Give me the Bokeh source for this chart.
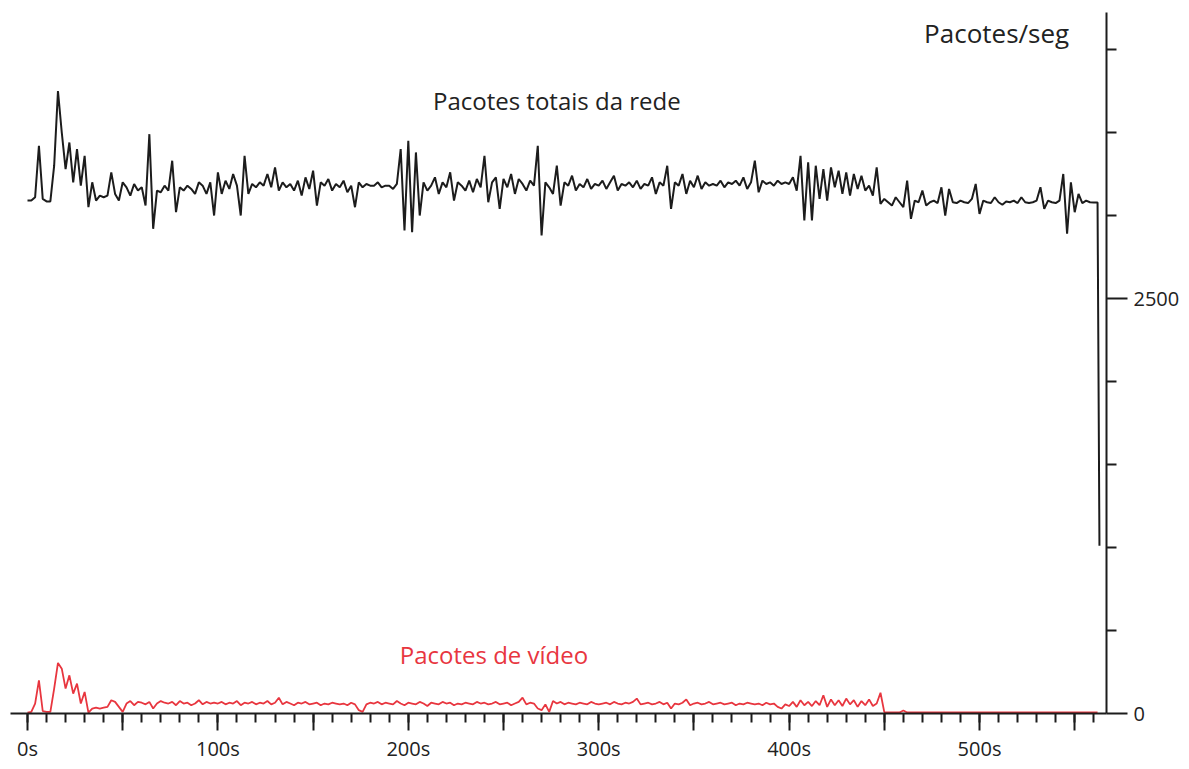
import numpy as np
from bokeh.plotting import figure
from bokeh.models import Range1d, FixedTicker, Label
from bokeh.embed import file_html
from bokeh.resources import INLINE

# ---------------- data ----------------
times = list(range(0, 564, 2))          # seconds, 2 s sampling (0..562)

total_packets = [
    3090, 3090, 3110, 3420, 3100, 3085, 3085, 3300, 3750, 3500,
    3280, 3440, 3200, 3400, 3180, 3360, 3050, 3200, 3090, 3120,
    3110, 3120, 3260, 3130, 3090, 3200, 3170, 3120, 3190, 3150,
    3170, 3060, 3490, 2920, 3150, 3140, 3180, 3150, 3330, 3020,
    3170, 3150, 3180, 3160, 3130, 3200, 3180, 3130, 3200, 3000,
    3260, 3130, 3210, 3160, 3250, 3180, 3000, 3360, 3130, 3190,
    3170, 3200, 3180, 3250, 3170, 3290, 3150, 3200, 3170, 3190,
    3150, 3210, 3120, 3230, 3160, 3270, 3060, 3200, 3180, 3220,
    3150, 3190, 3170, 3210, 3140, 3180, 3050, 3200, 3170, 3190,
    3180, 3180, 3200, 3170, 3180, 3180, 3160, 3190, 3400, 2910,
    3450, 2900, 3380, 3000, 3200, 3150, 3180, 3230, 3130, 3200,
    3170, 3260, 3090, 3200, 3180, 3150, 3210, 3140, 3220, 3170,
    3360, 3080, 3200, 3230, 3040, 3220, 3170, 3250, 3130, 3220,
    3190, 3150, 3210, 3180, 3420, 2880, 3200, 3170, 3130, 3300,
    3060, 3200, 3180, 3240, 3150, 3190, 3170, 3220, 3160, 3190,
    3180, 3210, 3160, 3200, 3240, 3150, 3190, 3180, 3200, 3170,
    3210, 3160, 3190, 3180, 3230, 3130, 3200, 3180, 3300, 3040,
    3200, 3180, 3250, 3130, 3210, 3170, 3240, 3160, 3200, 3180,
    3190, 3180, 3210, 3170, 3200, 3190, 3210, 3180, 3230, 3160,
    3200, 3330, 3140, 3210, 3190, 3200, 3180, 3210, 3190, 3200,
    3190, 3230, 3150, 3360, 2970, 3320, 2970, 3300, 3100, 3280,
    3090, 3290, 3170, 3270, 3130, 3260, 3120, 3250, 3160, 3240,
    3150, 3180, 3120, 3290, 3070, 3100, 3080, 3060, 3110, 3080,
    3050, 3210, 2980, 3090, 3080, 3150, 3060, 3080, 3090, 3075,
    3170, 3000, 3160, 3080, 3075, 3090, 3080, 3075, 3100, 3190,
    3010, 3090, 3080, 3075, 3110, 3080, 3065, 3085, 3080, 3090,
    3075, 3110, 3080, 3075, 3080, 3090, 3170, 3040, 3090, 3080,
    3075, 3090, 3250, 2890, 3200, 3020, 3130, 3075, 3090, 3080,
    3078, 3078,
]
# final drop at the end of the capture
end_time = [563]
end_value = [1010]

video_packets = [
    5, 10, 60, 200, 15, 10, 10, 150, 305, 270,
    150, 230, 120, 180, 60, 130, 5, 30, 35, 30,
    35, 40, 80, 70, 40, 10, 60, 75, 50, 70,
    65, 55, 70, 30, 60, 75, 65, 60, 70, 50,
    75, 60, 65, 50, 60, 80, 55, 70, 60, 65,
    60, 70, 55, 65, 60, 75, 50, 65, 60, 70,
    55, 65, 60, 75, 55, 65, 95, 55, 70, 60,
    50, 65, 60, 70, 55, 60, 65, 50, 60, 55,
    65, 60, 55, 60, 50, 65, 55, 20, 10, 55,
    65, 60, 70, 55, 65, 60, 55, 75, 60, 50,
    65, 60, 55, 70, 60, 45, 65, 60, 55, 70,
    60, 65, 50, 60, 55, 65, 60, 55, 70, 60,
    65, 55, 60, 70, 55, 60, 65, 50, 60, 70,
    95, 55, 65, 60, 30, 20, 55, 10, 75, 60,
    70, 55, 65, 60, 55, 65, 60, 55, 70, 60,
    55, 60, 65, 55, 70, 60, 55, 65, 60, 70,
    90, 55, 60, 65, 55, 60, 70, 55, 65, 30,
    60, 55, 65, 85, 50, 60, 65, 55, 60, 70,
    55, 60, 65, 55, 60, 65, 50, 60, 55, 65,
    60, 55, 60, 50, 65, 55, 60, 40, 30, 55,
    45, 70, 40, 80, 50, 70, 45, 75, 50, 110,
    40, 85, 50, 80, 45, 90, 55, 80, 40, 75,
    50, 85, 45, 60, 125, 8, 6, 6, 6, 6,
    18, 6, 6, 6, 6, 6, 6, 6, 6, 6,
    6, 6, 6, 6, 6, 6, 6, 6, 6, 6,
    6, 6, 6, 6, 6, 6, 6, 6, 6, 6,
    6, 6, 6, 6, 6, 6, 6, 6, 6, 6,
    6, 6, 6, 6, 6, 6, 6, 6, 6, 6,
    6, 6,
]

x_major_ticks = [0, 50, 100, 150, 200, 250, 300, 350, 400, 450, 500, 550]
x_minor_ticks = list(range(0, 570, 10))
x_tick_labels = {0: "0s", 50: "", 100: "100s", 150: "", 200: "200s", 250: "",
                 300: "300s", 350: "", 400: "400s", 450: "", 500: "500s", 550: ""}
y_major_ticks = [0, 2500]
y_minor_ticks = [500, 1000, 1500, 2000, 3000, 3500, 4000]
y_tick_labels = {0: "0", 2500: "2500"}

assert len(total_packets) == len(times)
assert len(video_packets) == len(times)

# ---------------- figure ----------------
FONT = "Open Sans"
p = figure(frame_width=1096, frame_height=701,
           x_range=Range1d(-8.93, 566.7), y_range=Range1d(0, 4223),
           y_axis_location="right",
           output_backend="svg", toolbar_location=None,
           min_border_left=10, min_border_top=12,
           min_border_right=75, min_border_bottom=48)
p.outline_line_color = None
p.grid.visible = False
p.background_fill_color = "white"

black_x = times + end_time
black_y = total_packets + end_value
p.line(black_x, black_y, line_color="#1c1c1c", line_width=2)
p.line(times, video_packets, line_color="#e8363f", line_width=1.8)

# x axis
xa = p.xaxis[0]
xa.ticker = FixedTicker(ticks=x_major_ticks, minor_ticks=x_minor_ticks)
xa.major_label_overrides = x_tick_labels
xa.axis_line_color = "#1c1c1c"
xa.axis_line_width = 2
xa.major_tick_in = 0
xa.major_tick_out = 17
xa.minor_tick_in = 0
xa.minor_tick_out = 9
xa.major_tick_line_color = "#1c1c1c"
xa.minor_tick_line_color = "#1c1c1c"
xa.major_tick_line_width = 2
xa.minor_tick_line_width = 2
xa.major_label_standoff = 4
xa.major_label_text_font = FONT
xa.major_label_text_font_size = "20px"
xa.major_label_text_color = "#222222"

# y axis (right)
ya = p.yaxis[0]
ya.ticker = FixedTicker(ticks=y_major_ticks, minor_ticks=y_minor_ticks)
ya.major_label_overrides = y_tick_labels
ya.axis_line_color = "#1c1c1c"
ya.axis_line_width = 2
ya.major_tick_in = 0
ya.major_tick_out = 21
ya.minor_tick_in = 0
ya.minor_tick_out = 10
ya.major_tick_line_color = "#1c1c1c"
ya.minor_tick_line_color = "#1c1c1c"
ya.major_tick_line_width = 2
ya.minor_tick_line_width = 2
ya.major_label_standoff = 6
ya.major_label_text_font = FONT
ya.major_label_text_font_size = "20px"
ya.major_label_text_color = "#222222"

# annotations
p.add_layout(Label(x=509, y=4102, text="Pacotes/seg", text_align="center",
                   text_baseline="middle", text_font=FONT,
                   text_font_size="26px", text_color="#222222"))
p.add_layout(Label(x=278, y=3693, text="Pacotes totais da rede", text_align="center",
                   text_baseline="middle", text_font=FONT,
                   text_font_size="24px", text_color="#222222"))
p.add_layout(Label(x=245, y=355, text="Pacotes de vídeo", text_align="center",
                   text_baseline="middle", text_font=FONT,
                   text_font_size="24px", text_color="#e8363f"))

open("out.html", "w").write(file_html(p, INLINE))
